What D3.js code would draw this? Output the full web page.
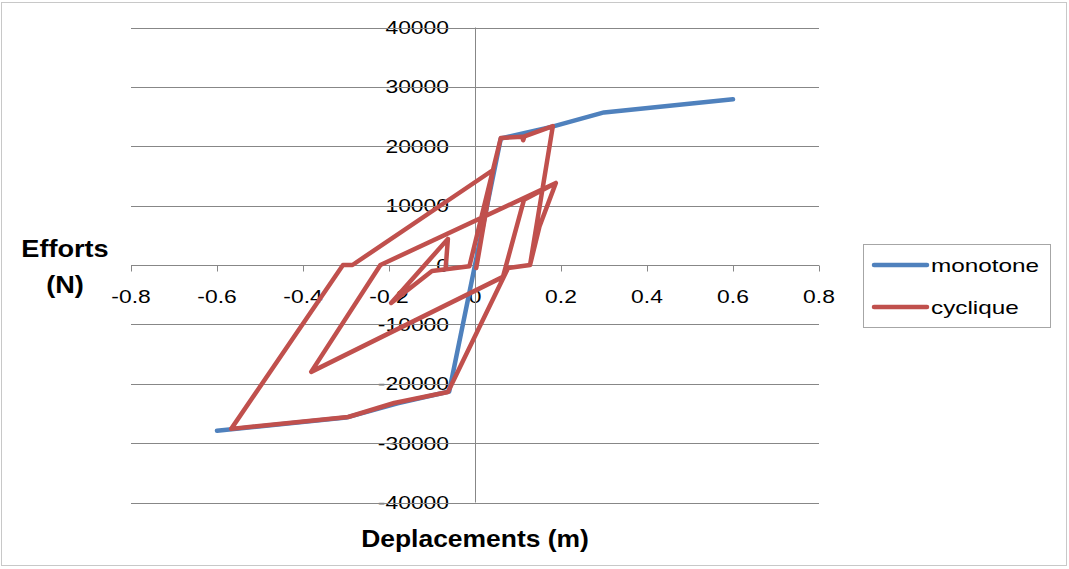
<!DOCTYPE html>
<html><head><meta charset="utf-8">
<script src="https://cdn.jsdelivr.net/npm/d3@7"></script>
<style>html,body{margin:0;padding:0;background:#fff;}svg{display:block;}</style>
</head><body>
<svg id="chart" width="1069" height="569"></svg>
<script>
// ---- data ----
const seriesNames = ["monotone", "cyclique"];
const monoX = [-0.6, -0.3, -0.18, -0.06, 0, 0.06, 0.18, 0.3, 0.6];
const monoY = [-27900, -25700, -23300, -21300, 0, 21300, 23300, 25700, 27900];
const cycX = [-0.068, -0.063, -0.195, -0.100, -0.013, 0.060, 0.110, 0.112, 0.115, 0.181, 0.128, 0.077, 0.065, 0.114, 0.188, 0.150, 0.146, 0.128, 0.077, 0.065, -0.381, -0.220, 0.188, 0.150, 0.128, 0.077, -0.063, -0.188, -0.295, -0.567, -0.307, -0.285, 0.042, 0.003];
const cycY = [-300, 4400, -6400, -1000, -200, 21400, 21600, 21000, 21650, 23400, 0, -500, -2000, 11000, 13800, 6500, 6900, 0, -500, -2000, -18000, 0, 13800, 6500, 0, -500, -21400, -23240, -25600, -27600, 0, 0, 16000, -500];
const xTicks = [-0.8, -0.6, -0.4, -0.2, 0, 0.2, 0.4, 0.6, 0.8];
const yTicks = [-40000, -30000, -20000, -10000, 0, 10000, 20000, 30000, 40000];
const xTitle = "Deplacements (m)";
const yTitle = ["Efforts", "(N)"];

const colors = ["#4f81bd", "#c0504d"];
const svg = d3.select("#chart");
const x = d3.scaleLinear().domain([-0.8, 0.8]).range([131, 819]);
const y = d3.scaleLinear().domain([-40000, 40000]).range([502.5, 27.5]);
const FONT = "'Liberation Sans', Arial, sans-serif";

// outer border
svg.append("rect").attr("x", 1.5).attr("y", 2.5).attr("width", 1065).attr("height", 563)
  .attr("fill", "#fff").attr("stroke", "#c8c8c8").attr("stroke-width", 1);

function sText(g, tx, ty, txt, size, sx, anchor, weight) {
  return g.append("text").attr("transform", `translate(${tx},${ty}) scale(${sx},1)`)
    .attr("text-anchor", anchor).attr("dominant-baseline", "central")
    .attr("font-family", FONT).attr("font-size", size).attr("font-weight", weight || "normal")
    .attr("fill", "#000").text(txt);
}
const labG = svg.append("g");
yTicks.forEach(v => sText(labG, 449, y(v), String(v), 18, 1.27, "end"));

// horizontal grid lines
svg.append("g").selectAll("line").data(yTicks).join("line")
  .attr("x1", x(-0.8)).attr("x2", x(0.8)).attr("y1", d => Math.round(y(d)) + 0.5).attr("y2", d => Math.round(y(d)) + 0.5)
  .attr("stroke", "#878787").attr("stroke-width", 1);

// vertical axis line at x=0
svg.append("line").attr("x1", Math.round(x(0)) + 0.5).attr("x2", Math.round(x(0)) + 0.5)
  .attr("y1", y(40000)).attr("y2", y(-40000)).attr("stroke", "#878787");

// x axis with ticks at y=0
const xAxis = d3.axisBottom(x).tickValues(xTicks).tickSize(6).tickFormat("");
const xg = svg.append("g").attr("transform", `translate(0,${Math.round(y(0)) + 0.5})`).call(xAxis);
xg.selectAll("path,line").attr("stroke", "#878787");
xg.select("path").attr("d", `M${x(-0.8)},0H${x(0.8)}`);
xTicks.forEach(v => sText(labG, x(v), 296, String(v), 18, 1.27, "middle"));

// lines
const line = d3.line().x(d => x(d[0])).y(d => y(d[1]));
const monoData = monoX.map((v, i) => [v, monoY[i]]);
const cycData = cycX.map((v, i) => [v, cycY[i]]);
svg.append("path").datum(monoData).attr("d", line).attr("fill", "none")
  .attr("stroke", colors[0]).attr("stroke-width", 4.5).attr("stroke-linejoin", "round").attr("stroke-linecap", "round");
svg.append("path").datum(cycData).attr("d", line).attr("fill", "none")
  .attr("stroke", colors[1]).attr("stroke-width", 4.5).attr("stroke-linejoin", "round").attr("stroke-linecap", "round");

// titles
sText(svg, 475, 539, xTitle, 23, 1.15, "middle", "bold");
sText(svg, 65, 249, yTitle[0], 23, 1.18, "middle", "bold");
sText(svg, 65, 285, yTitle[1], 23, 1.18, "middle", "bold");

// legend
const lg = svg.append("g");
lg.append("rect").attr("x", 863.5).attr("y", 244.5).attr("width", 187).attr("height", 83)
  .attr("fill", "#fff").attr("stroke", "#a6a6a6");
[265, 307].forEach((ly, i) => {
  lg.append("line").attr("x1", 874).attr("x2", 927).attr("y1", ly).attr("y2", ly)
    .attr("stroke", colors[i]).attr("stroke-width", 4.5).attr("stroke-linecap", "round");
  sText(lg, 931, ly, seriesNames[i], 19, 1.28, "start");
});
</script>
</body></html>
